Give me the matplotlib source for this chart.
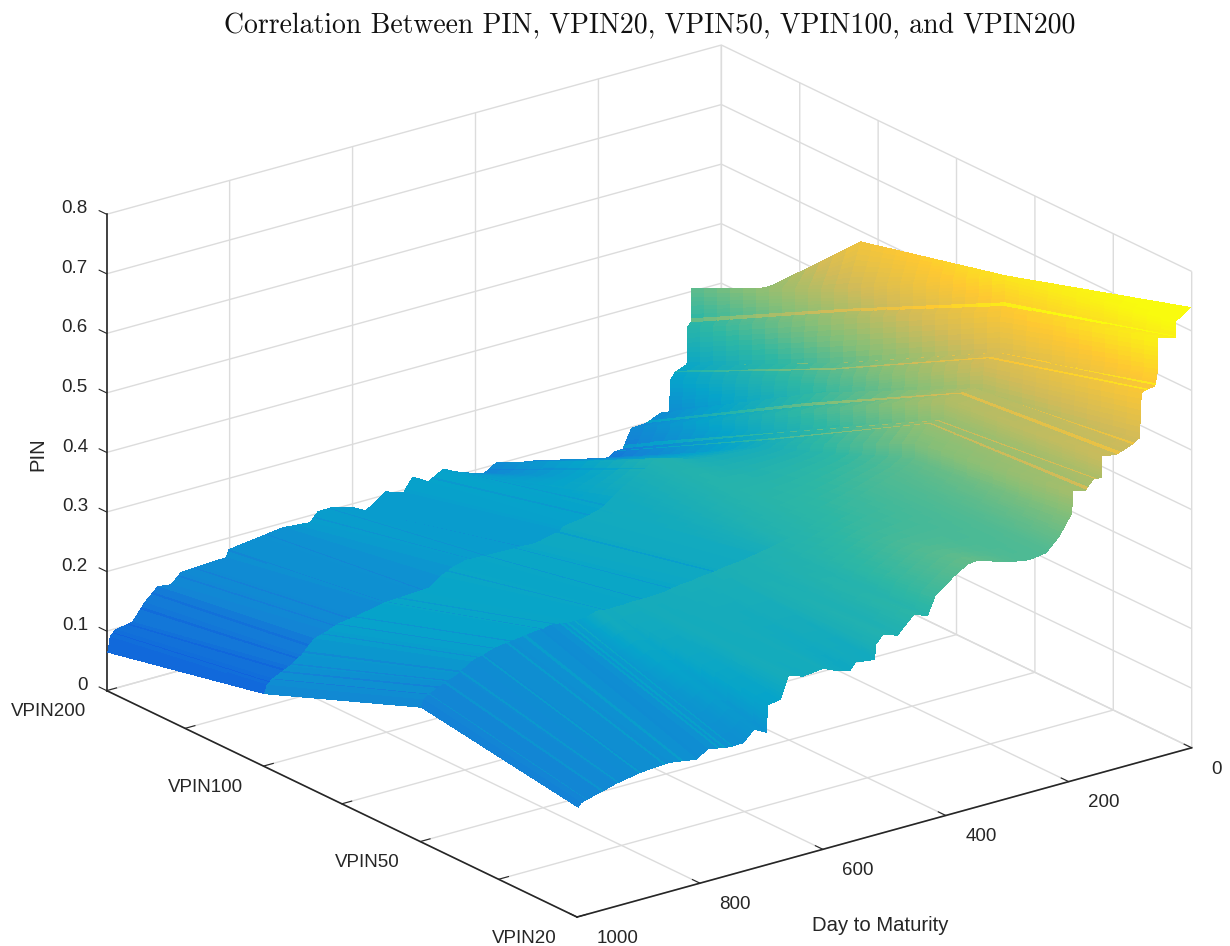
import numpy as np
import matplotlib
matplotlib.use('Agg')
import matplotlib.pyplot as plt
from matplotlib.colors import LinearSegmentedColormap, Normalize
from matplotlib.transforms import Affine2D

title = 'Correlation Between PIN, VPIN20, VPIN50, VPIN100, and VPIN200'

# one row per bucket, same row number on all four series
days = [998, 994, 985, 958, 938, 917, 895, 879, 850, 806, 801, 788, 750, 730, 712, 692,
        690, 669, 656, 632, 600, 580, 556, 547, 516, 514, 502, 479, 452, 430, 417, 386,
        365, 350, 293, 264, 237, 215, 195, 194, 173, 160, 147, 146, 123, 98, 85, 82,
        76, 60, 56, 55]
# last rows, where the series stop at different days
end_days_20 = [27, 26, 2]
end_days_50 = [49, 47, 47]
end_days_100 = [49, 49, 28]
end_days_200 = [49, 49, 34]

pin_20 = [.184, .190, .193, .200, .206, .210, .214, .215, .217, .210, .213, .222, .215, .216, .2335, .223,
          .268, .272, .308, .300, .304, .295, .288, .2995, .295, .320, .334, .325, .353, .344, .375, .399,
          .412, .414, .396, .391, .395, .4175, .450, .487, .482, .497, .4955, .532, .5275, .537, .545, .620,
          .622, .625, .646, .704, .697, .724, .740]
pin_50 = [.225, .236, .243, .255, .263, .278, .284, .290, .294, .300, .299, .303, .298, .299, .305, .302,
          .303, .303, .304, .304, .306, .310, .312, .314, .317, .318, .320, .322, .327, .331, .334, .341,
          .348, .354, .374, .384, .394, .401, .414, .440, .466, .467, .467, .500, .502, .504, .489, .544,
          .548, .553, .553, .623, .630, .679, .679]
pin_100 = [.121, .134, .142, .155, .168, .190, .197, .204, .208, .217, .218, .219, .221, .222, .236, .246,
           .247, .252, .251, .250, .249, .249, .248, .250, .258, .262, .265, .268, .275, .290, .300, .318,
           .332, .332, .314, .311, .308, .307, .306, .306, .312, .320, .321, .352, .354, .370, .360, .387,
           .402, .409, .410, .484, .494, .532, .604]
pin_200 = [.064, .090, .098, .103, .130, .151, .148, .164, .166, .168, .180, .182, .187, .190, .192, .190,
           .190, .188, .203, .203, .194, .181, .197, .205, .195, .200, .217, .201, .216, .205, .200, .190,
           .203, .196, .186, .178, .171, .166, .156, .153, .166, .167, .196, .198, .199, .210, .208, .261,
           .271, .278, .276, .341, .349, .405, .346]

# rows that sit just on top of a wall, these show up as bright lines
ledge_rows = [40, 41, 44, 45, 48, 49, 52]
ledge_parts = [.25, .25, .25, .25, .25, .25, .12]
# below these days the colour runs smoothly over a band, above it a band takes the colour of its front edge
band_limits = [716, 400, 400]
band_tones = [0, -.025, 0]
# thin stripes along the rows, by band
stripes_c = [985, 960, 935, 900, 860, 830, 770, 760, 750]
stripes_b = [985, 970, 955, 935, 905, 880, 850, 800, 780, 700, 640, 590, 520]
stripes_a = [990, 965, 945, 925, 883, 860, 801, 740, 664, 640, 580, 516, 469, 445, 380]
stripe_tones = [.035, -.035, -.025]

pin_ticks = [0, .1, .2, .3, .4, .5, .6, .7, .8]
pin_tick_labels = ['0', '0.1', '0.2', '0.3', '0.4', '0.5', '0.6', '0.7', '0.8']
day_ticks = [0, 200, 400, 600, 800, 1000]
series_ticks = [1, 1.5, 2, 2.5, 3, 3.5, 4]
series_tick_labels = ['VPIN20', '', 'VPIN50', '', 'VPIN100', '', 'VPIN200']

parula_colors = ['#352a87', '#0f5cdd', '#1481d6', '#06a4ca', '#2eb7a4',
                 '#87bf77', '#d1bb59', '#fec832', '#f9fb0e']
parula = LinearSegmentedColormap.from_list('parula', parula_colors, N=256)

sides = [(days + end_days_20, pin_20), (days + end_days_50, pin_50),
         (days + end_days_100, pin_100), (days + end_days_200, pin_200)]
band_stripes = [stripes_c, stripes_b, stripes_a]

# split the facets, mplot3d has no interpolated shading
n_rows = len(pin_20)
row_pos = np.arange(n_rows)
fine_rows = np.linspace(0, n_rows - 1, (n_rows - 1) * 8 + 1)
col_pos = np.arange(1, 5)
fine_cols = np.linspace(1, 4, 37)

d_rows = np.array([np.interp(fine_rows, row_pos, s[0]) for s in sides]).T
z_rows = np.array([np.interp(fine_rows, row_pos, s[1]) for s in sides]).T
X = np.array([np.interp(fine_cols, col_pos, r) for r in d_rows])
Z = np.array([np.interp(fine_cols, col_pos, r) for r in z_rows])
Y = np.tile(fine_cols, (len(fine_rows), 1))

# colour of each facet
mid_z = (Z[:-1, :-1] + Z[1:, :-1] + Z[:-1, 1:] + Z[1:, 1:]) / 4
mid_d = (X[:-1, :-1] + X[1:, :-1] + X[:-1, 1:] + X[1:, 1:]) / 4
mid_cols = (fine_cols[:-1] + fine_cols[1:]) / 2
row_of_facet = np.floor(fine_rows[:-1] + 1e-6).astype(int)
part_of_row = fine_rows[:-1] - row_of_facet
C = mid_z.copy()
for j, c in enumerate(mid_cols):
    band = int(c - 1)
    front = np.array(sides[band][1])[row_of_facet] + band_tones[band]
    w = np.clip((mid_d[:, j] - band_limits[band]) / 60, 0, 1)
    C[:, j] = (1 - w) * mid_z[:, j] + w * front
    for day in band_stripes[band]:
        C[np.argmin(np.abs(mid_d[:, j] - day)), j] += stripe_tones[band]
for r, p in zip(ledge_rows, ledge_parts):
    C[(row_of_facet == r) & (part_of_row < p)] += 0.06
facecolors = parula(Normalize(0, .72)(C))

plt.rcParams['font.family'] = ['Liberation Sans', 'DejaVu Sans']
fig = plt.figure(figsize=(12.3, 9.46), dpi=100)
ax = fig.add_axes([0.0174, -0.022, 1.0, 1.0], projection='3d', proj_type='ortho')
ax.view_init(elev=21.35, azim=-127.1)
ax.set_box_aspect((770, 779, 511), zoom=1.2414)

surf = ax.plot_surface(X, Y, Z, rstride=1, cstride=1, facecolors=facecolors, shade=False,
                       linewidth=0, antialiased=False)
surf.set_clip_on(False)

ax.set_xlim(1000, 0, view_margin=0)
ax.set_ylim(1, 4, view_margin=0)
ax.set_zlim(0, .8, view_margin=0)

ax.set_xticks(day_ticks)
ax.set_yticks(series_ticks)
ax.set_yticklabels(series_tick_labels, ha='right')
ax.set_zticks(pin_ticks)
ax.set_zticklabels(pin_tick_labels, ha='right')
ax.set_xticklabels([str(t) for t in day_ticks], ha='left')
ax.tick_params(labelsize=13.5, colors='#262626')
ax.tick_params(axis='x', pad=6)
ax.tick_params(axis='y', pad=4)
ax.tick_params(axis='z', pad=4)

ax.zaxis._get_tickdir = lambda pos: 1

for a in [ax.xaxis, ax.yaxis, ax.zaxis]:
    a.set_pane_color((1, 1, 1, 0))
    a.pane.set_edgecolor('#cfcfcf')
    a._axinfo['grid'].update(color='#dcdcdc', linewidth=1.0)
    a._axinfo['tick'].update(inward_factor=0.0, outward_factor=0.2)
    a._axinfo['axisline'].update(linewidth=1.2)
    a.line.set_color('#262626')
    a.line.set_linewidth(1.2)

# Axis3D resets the label transforms in get_major_ticks, so nudge them from there
def shift_tick_labels(a, dx, dy):
    get_ticks = a.get_major_ticks
    def shifted(numticks=None):
        ticks = get_ticks(numticks)
        for t in ticks:
            t.label1.set_transform(ax.transData + Affine2D().translate(dx, dy))
            t.label1.set_clip_on(False)
        return ticks
    a.get_major_ticks = shifted

shift_tick_labels(ax.xaxis, 1, 15)
shift_tick_labels(ax.yaxis, 0, 9)
shift_tick_labels(ax.zaxis, 18, 12)

fig.text(0.5285, 0.972, title, family='cmr10', fontsize=20, ha='center', va='center', color='#111111')
fig.text(0.031, 0.52, 'PIN', rotation=90, fontsize=14.6, ha='center', va='center', color='#262626')
fig.text(0.716, 0.022, 'Day to Maturity', fontsize=14.6, ha='center', va='center', color='#262626')

fig.savefig('out.png', dpi=100)
